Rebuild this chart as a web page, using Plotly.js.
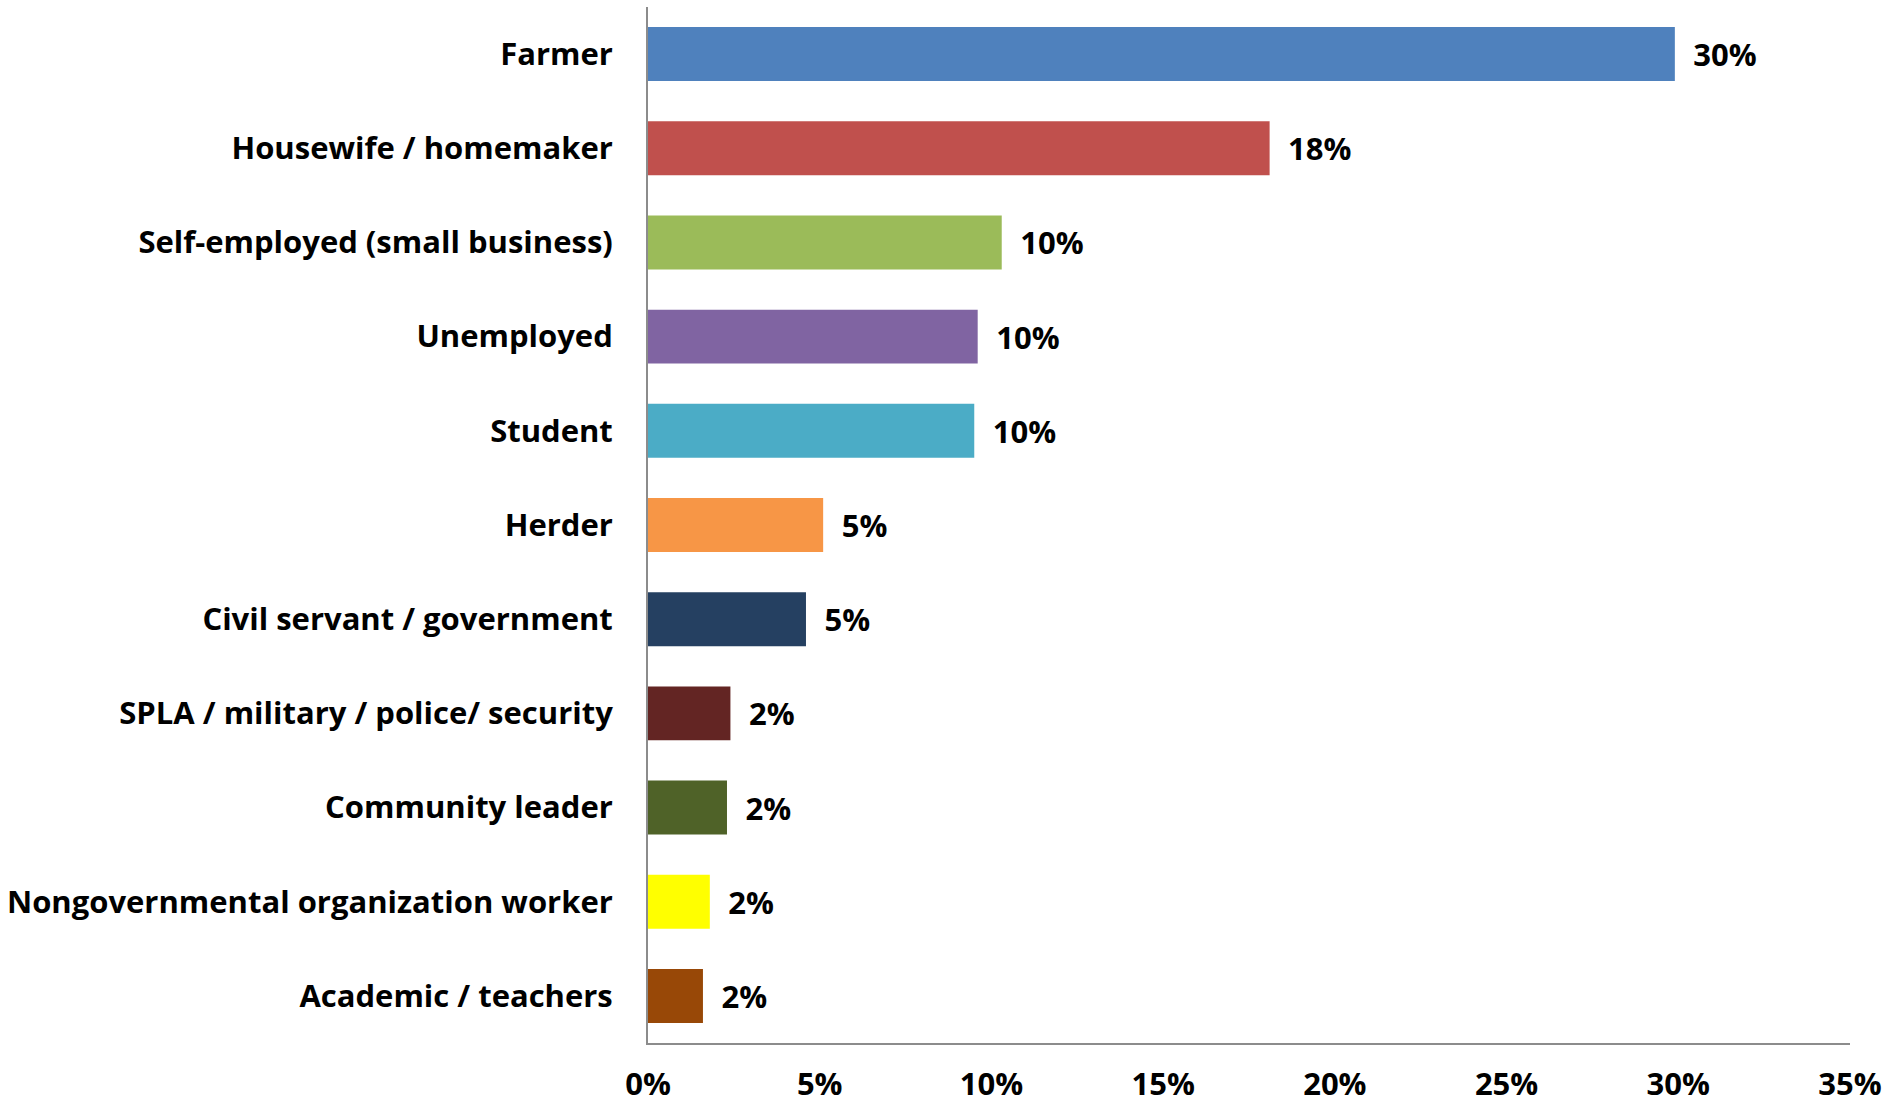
<!DOCTYPE html>
<html>
<head>
<meta charset="utf-8">
<script src="https://cdn.plot.ly/plotly-3.0.1.min.js"></script>
<style>
  html, body { margin: 0; padding: 0; background: #ffffff; }
  #chart { width: 1889px; height: 1108px; }
</style>
</head>
<body>
<div id="chart"></div>
<script>
const categories = [
  "Farmer",
  "Housewife / homemaker",
  "Self-employed (small business)",
  "Unemployed",
  "Student",
  "Herder",
  "Civil servant / government",
  "SPLA / military / police/ security",
  "Community leader",
  "Nongovernmental organization worker",
  "Academic / teachers"
];
const values = [29.9, 18.1, 10.3, 9.6, 9.5, 5.1, 4.6, 2.4, 2.3, 1.8, 1.6];
const barColors = [
  "#4F81BD", "#C0504D", "#9BBB59", "#8064A2", "#4BACC6", "#F79646",
  "#254061", "#632523", "#4F6228", "#FFFF00", "#984807"
];
const xTickVals = [0, 5, 10, 15, 20, 25, 30, 35];
const xTickText = ["0%", "5%", "10%", "15%", "20%", "25%", "30%", "35%"];

const font = "'Open Sans', 'Noto Sans', sans-serif";

const trace = {
  type: "bar",
  orientation: "h",
  x: values,
  y: categories,
  marker: { color: barColors, line: { width: 0 } },
  texttemplate: "\u2002%{x:.0f}%",
  textposition: "outside",
  constraintext: "none",
  cliponaxis: false,
  textfont: { family: font, size: 31, color: "#000000", weight: "bold" },
  hoverinfo: "none"
};

const layout = {
  width: 1889,
  height: 1108,
  margin: { l: 648, r: 39, t: 7, b: 65 },
  paper_bgcolor: "#ffffff",
  plot_bgcolor: "#ffffff",
  bargap: 0.427,
  showlegend: false,
  font: { family: font, size: 31, color: "#000000", weight: "bold" },
  xaxis: {
    range: [0, 35],
    tickvals: xTickVals,
    ticktext: xTickText,
    showgrid: false,
    zeroline: false,
    showline: true,
    linecolor: "#8c8c8c",
    linewidth: 2,
    ticks: "",
    ticklabelstandoff: 13,
    tickfont: { family: font, size: 31, color: "#000000", weight: "bold" },
    fixedrange: true
  },
  yaxis: {
    type: "category",
    categoryorder: "array",
    categoryarray: categories,
    autorange: "reversed",
    showgrid: false,
    zeroline: false,
    showline: true,
    linecolor: "#8c8c8c",
    linewidth: 2,
    ticks: "",
    ticklabelstandoff: 27,
    tickfont: { family: font, size: 31, color: "#000000", weight: "bold" },
    fixedrange: true
  }
};

Plotly.newPlot("chart", [trace], layout, { displayModeBar: false, staticPlot: true });
</script>
</body>
</html>
